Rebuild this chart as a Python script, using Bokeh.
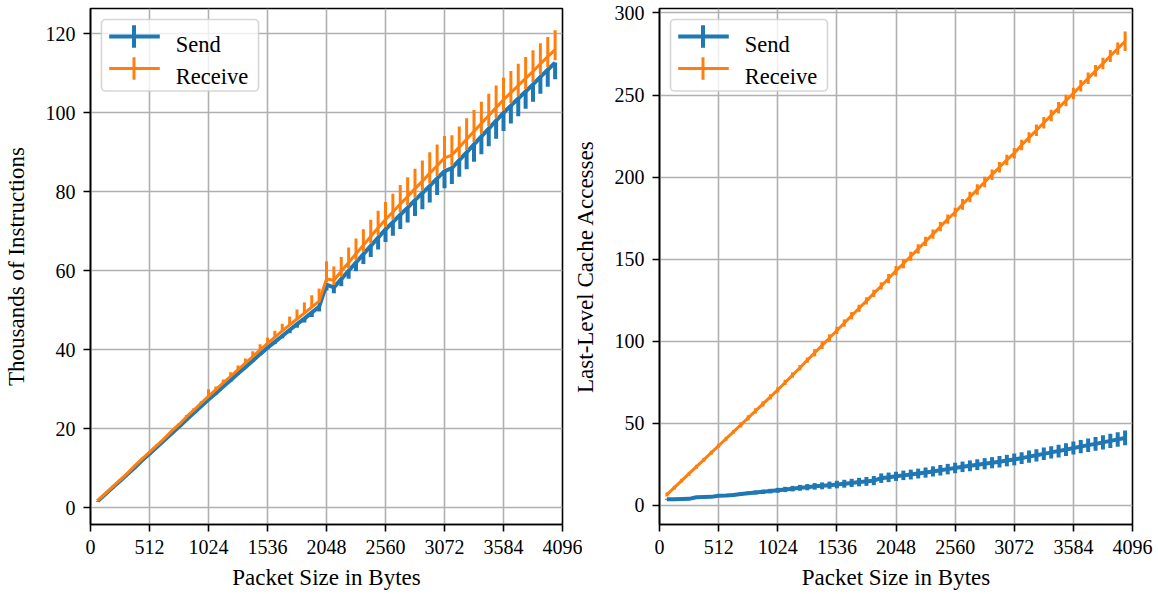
from bokeh.plotting import figure
from bokeh.layouts import row
from bokeh.models import ColumnDataSource, FixedTicker, Range1d, BoxAnnotation, Arrow, Label
from bokeh.embed import file_html
from bokeh.resources import INLINE

# ---------------- data ----------------
packet_sizes = list(range(64, 4033, 64))  # 63 packet sizes in bytes

series_names = ["Send", "Receive"]

# Left: thousands of instructions
instr_send = [1.7, 3.4, 5.1, 6.8, 8.5, 10.2, 12.0, 13.7, 15.4, 17.1,
              18.8, 20.5, 22.3, 24.0, 25.7, 27.4, 29.0, 30.7, 32.3, 34.0,
              35.6, 37.2, 38.9, 40.5, 42.0, 43.5, 45.0, 46.5, 47.9, 49.4,
              50.9, 56.5, 55.8, 57.9, 60.0, 62.1, 64.2, 66.3, 68.4, 70.5,
              72.3, 74.2, 76.0, 77.9, 79.7, 81.5, 83.4, 85.2, 86.0, 88.0,
              90.0, 92.0, 94.0, 96.0, 98.0, 100.0, 101.8, 103.6, 105.4, 107.2,
              109.1, 110.9, 112.7]
instr_send_err_lo = [0.2, 0.2, 0.2, 0.2, 0.2, 0.2, 0.2, 0.2, 0.2, 0.2,
                     0.2, 0.2, 0.2, 0.2, 0.2, 0.2, 0.3, 0.3, 0.3, 0.3,
                     0.3, 0.3, 0.3, 0.3, 0.5, 0.6, 0.8, 0.9, 1.0, 1.1,
                     1.2, 1.5, 1.5, 1.8, 2.0, 2.2, 2.5, 2.8, 3.0, 3.2,
                     3.4, 3.6, 3.8, 4.0, 4.1, 4.2, 4.2, 4.3, 4.0, 4.2,
                     4.3, 4.4, 4.5, 4.5, 4.6, 4.6, 4.5, 4.5, 4.4, 4.4,
                     4.3, 4.3, 4.2]
instr_recv = [1.9, 3.6, 5.3, 7.0, 8.7, 10.6, 12.4, 14.1, 15.8, 17.5,
              19.4, 21.1, 23.0, 24.7, 26.5, 28.2, 29.9, 31.6, 33.3, 35.0,
              36.6, 38.3, 40.0, 41.6, 43.2, 44.8, 46.3, 47.8, 49.3, 50.8,
              52.3, 57.9, 57.6, 59.9, 62.1, 64.3, 66.5, 68.7, 70.9, 73.0,
              74.9, 76.9, 78.8, 80.8, 82.7, 84.7, 86.6, 88.6, 89.3, 91.3,
              93.3, 95.3, 97.3, 99.3, 101.3, 103.3, 105.1, 106.9, 108.7, 110.5,
              112.4, 114.2, 116.0]
instr_recv_err_lo = [0.0, 0.0, 0.0, 0.0, 0.0, 0.0, 0.0, 0.0, 0.0, 0.0,
                     0.0, 0.0, 0.0, 0.0, 0.0, 0.0, 0.0, 0.0, 0.0, 0.0,
                     0.0, 0.0, 0.0, 0.0, 0.0, 0.0, 0.0, 0.0, 0.0, 0.0,
                     0.0, 0.8, 1.2, 1.4, 1.5, 1.6, 1.7, 1.8, 1.9, 1.9,
                     2.0, 2.1, 2.2, 2.3, 2.4, 2.6, 2.6, 2.8, 2.7, 2.7,
                     2.7, 2.7, 2.7, 2.7, 2.7, 2.7, 2.7, 2.7, 2.7, 2.7,
                     2.7, 2.7, 2.7]
instr_recv_err_hi = [0.3, 0.3, 0.3, 0.3, 0.3, 0.3, 0.3, 0.3, 0.3, 0.3,
                     0.3, 0.3, 0.5, 0.5, 0.5, 1.8, 0.8, 0.9, 1.0, 1.0,
                     1.2, 1.3, 1.4, 1.5, 1.6, 1.8, 2.1, 2.4, 2.7, 3.0,
                     3.2, 4.5, 3.5, 3.6, 3.8, 3.9, 4.0, 4.2, 4.3, 4.4,
                     4.6, 4.8, 4.9, 5.0, 5.2, 5.3, 5.4, 5.5, 5.0, 5.2,
                     5.3, 5.4, 5.5, 5.5, 5.6, 5.6, 5.5, 5.5, 5.4, 5.3,
                     5.2, 5.0, 4.9]

# Right: last-level cache accesses
llc_send = [3.8, 3.8, 3.9, 4.0, 5.0, 5.1, 5.2, 5.9, 6.1, 6.4,
            6.9, 7.4, 7.9, 8.3, 8.7, 9.2, 9.7, 10.2, 10.7, 11.1,
            11.6, 11.9, 12.3, 12.7, 13.2, 13.7, 14.2, 14.6, 15.1, 16.6,
            17.1, 17.7, 18.3, 18.8, 19.4, 20.0, 20.7, 21.4, 22.1, 22.8,
            23.5, 24.1, 24.8, 25.4, 26.0, 26.6, 27.3, 28.0, 28.8, 29.7,
            30.5, 31.4, 32.3, 33.1, 34.0, 35.0, 35.8, 36.7, 37.5, 38.4,
            39.3, 40.2, 41.1]
llc_send_err = [0.3, 0.3, 0.3, 0.3, 0.5, 0.5, 0.5, 0.5, 0.8, 0.9,
                1.0, 1.1, 1.2, 1.3, 1.4, 1.5, 1.6, 1.7, 1.8, 1.9,
                2.0, 2.1, 2.2, 2.3, 2.4, 2.5, 2.6, 2.7, 2.8, 2.9,
                2.9, 2.8, 2.9, 3.0, 3.0, 3.1, 3.1, 3.2, 3.2, 3.2,
                3.2, 3.3, 3.3, 3.4, 3.4, 3.5, 3.5, 3.6, 3.6, 3.7,
                3.7, 3.8, 3.8, 3.9, 3.9, 4.0, 4.0, 4.1, 4.2, 4.3,
                4.4, 4.4, 4.5]
llc_recv = [6.6, 10.8, 15.1, 19.3, 23.6, 27.8, 32.1, 36.3, 40.6, 44.8,
            49.1, 53.3, 57.6, 61.8, 66.1, 70.4, 74.9, 79.4, 83.9, 88.5,
            93.0, 97.5, 102.0, 106.6, 111.1, 115.6, 120.1, 124.6, 129.2, 133.7,
            138.2, 143.0, 147.2, 151.8, 156.3, 160.8, 165.3, 169.8, 174.4, 178.6,
            183.4, 187.9, 192.4, 197.0, 201.5, 206.0, 210.5, 214.6, 219.6, 224.1,
            228.6, 233.1, 237.6, 242.2, 246.7, 251.0, 255.7, 260.2, 264.8, 269.3,
            273.8, 278.3, 282.8]
llc_recv_err = [1.2, 1.2, 1.2, 1.2, 1.2, 1.2, 1.2, 1.2, 1.2, 1.2,
                1.6, 1.6, 1.6, 1.6, 1.6, 1.6, 1.6, 1.6, 1.6, 1.6,
                2.2, 2.2, 2.2, 2.2, 2.2, 2.2, 2.2, 2.2, 2.2, 2.2,
                2.8, 2.8, 2.8, 2.8, 2.8, 2.8, 2.8, 2.8, 2.8, 2.8,
                3.2, 3.2, 3.2, 3.2, 3.2, 3.2, 3.2, 3.2, 3.2, 3.2,
                3.5, 3.5, 3.5, 3.5, 3.5, 3.5, 3.5, 3.5, 3.5, 3.5,
                3.6, 3.8, 6.0]

x_ticks = [0, 512, 1024, 1536, 2048, 2560, 3072, 3584, 4096]
instr_y_ticks = [0, 20, 40, 60, 80, 100, 120]
llc_y_ticks = [0, 50, 100, 150, 200, 250, 300]

# ---------------- style ----------------
BLUE = "#1f77b4"
ORANGE = "#ff7f0e"
FONT = "Liberation Serif"
FRAME_H = 516
X_RANGE = (0, 4096)
LABEL_SIZE = "23px"


def make_fig(frame_w, y_lo, y_hi, border_left, border_right):
    p = figure(frame_width=frame_w, frame_height=FRAME_H,
               x_range=Range1d(*X_RANGE), y_range=Range1d(y_lo, y_hi),
               output_backend="svg", toolbar_location=None,
               min_border_left=border_left, min_border_right=border_right,
               min_border_top=8, min_border_bottom=60,
               background_fill_color="white", border_fill_color="white")
    return p


def style(p, y_label, y_ticks, label_standoff):
    p.xaxis.ticker = FixedTicker(ticks=x_ticks)
    p.yaxis.ticker = FixedTicker(ticks=y_ticks)
    for ax in (p.xaxis[0], p.yaxis[0]):
        ax.major_tick_out = 7
        ax.major_tick_in = 0
        ax.minor_tick_out = 0
        ax.minor_tick_in = 0
        ax.major_tick_line_width = 1.6
        ax.major_tick_line_color = "black"
        ax.axis_line_width = 1.6
        ax.axis_line_color = "black"
        ax.major_label_text_font = FONT
        ax.major_label_text_font_size = "20px"
        ax.major_label_text_color = "black"
        ax.major_label_standoff = 8
        ax.axis_label_text_font = FONT
        ax.axis_label_text_font_size = LABEL_SIZE
        ax.axis_label_text_font_style = "normal"
        ax.axis_label_text_color = "black"
    p.xaxis.axis_label = "Packet Size in Bytes"
    p.yaxis.axis_label = y_label
    p.xaxis.axis_label_standoff = 8
    p.yaxis.axis_label_standoff = label_standoff
    p.grid.grid_line_color = "#b0b0b0"
    p.grid.grid_line_width = 1.6
    p.outline_line_color = "black"
    p.outline_line_width = 1.6


def draw_series(p, ys, lo_err, hi_err, color, width):
    lo = [y - e for y, e in zip(ys, lo_err)]
    hi = [y + e for y, e in zip(ys, hi_err)]
    src = ColumnDataSource(dict(x=packet_sizes, y=ys, lo=lo, hi=hi))
    p.segment(x0="x", y0="lo", x1="x", y1="hi", source=src,
              line_color=color, line_width=width)
    p.line(x="x", y="y", source=src, line_color=color, line_width=width,
           line_join="round")


def add_legend(p, frame_w, y_lo, y_hi):
    # legend drawn at frame-relative pixel positions converted to data units
    def X(px):
        return X_RANGE[0] + px / frame_w * (X_RANGE[1] - X_RANGE[0])

    def Y(py):
        return y_hi - py / FRAME_H * (y_hi - y_lo)

    p.add_layout(BoxAnnotation(left=X(11), right=X(168), top=Y(11), bottom=Y(82.5),
                               fill_color="white", fill_alpha=0.8,
                               line_color="#cccccc", line_alpha=0.8, line_width=1.6,
                               border_radius=4))
    for i, (name, color, lw) in enumerate(zip(series_names, [BLUE, ORANGE], [4, 3])):
        yy = 28 + 32 * i
        p.add_layout(Arrow(start=None, end=None, x_start=X(18.7), y_start=Y(yy),
                           x_end=X(69.3), y_end=Y(yy), line_color=color, line_width=lw))
        p.add_layout(Arrow(start=None, end=None, x_start=X(43.5), y_start=Y(yy - 11.3),
                           x_end=X(43.5), y_end=Y(yy + 11.3), line_color=color, line_width=lw))
        p.add_layout(Label(x=X(85.3), y=Y(yy + 7.8), text=name, text_font=FONT,
                           text_font_size="22.5px", text_color="black",
                           text_baseline="alphabetic", text_align="left"))


# Left plot
L_W = 472
L_Y = (-4.23, 126.4)
p1 = make_fig(L_W, *L_Y, border_left=84, border_right=20)
style(p1, "Thousands of Instructions", instr_y_ticks, 14)
draw_series(p1, instr_send, instr_send_err_lo, [0.0] * len(instr_send), BLUE, 4)
draw_series(p1, instr_recv, instr_recv_err_lo, instr_recv_err_hi, ORANGE, 3)
add_legend(p1, L_W, *L_Y)

# Right plot (its left border overlaps the left plot's right border a little)
R_W = 473
R_Y = (-11.64, 302.74)
p2 = make_fig(R_W, *R_Y, border_left=85, border_right=22)
p2.border_fill_alpha = 0
p2.styles = {"margin-left": "-13px"}
style(p2, "Last-Level Cache Accesses", llc_y_ticks, 14)
draw_series(p2, llc_send, llc_send_err, llc_send_err, BLUE, 4)
draw_series(p2, llc_recv, llc_recv_err, llc_recv_err, ORANGE, 3)
add_legend(p2, R_W, *R_Y)

layout = row(p1, p2)
open("out.html", "w").write(file_html(layout, INLINE))
